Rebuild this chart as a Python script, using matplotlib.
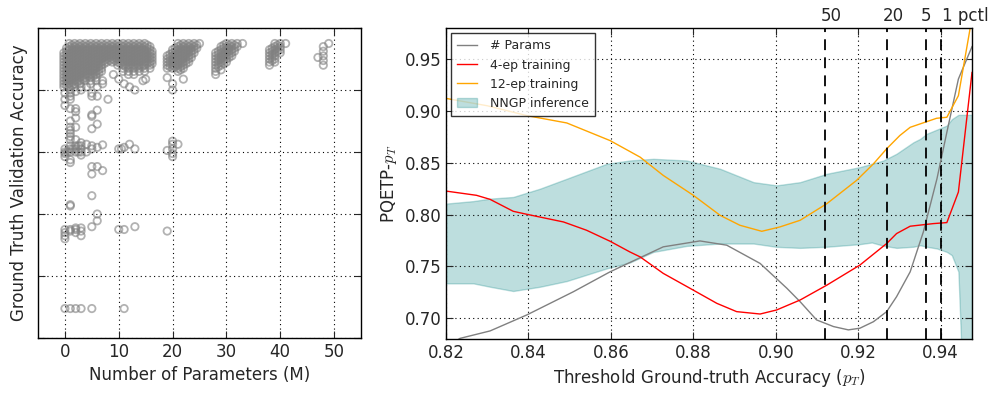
import matplotlib
matplotlib.use("Agg")
import matplotlib.pyplot as plt
import matplotlib.ticker as mticker

plt.rcParams["font.family"] = ["DejaVu Sans"]
plt.rcParams["text.color"] = "#262626"
plt.rcParams["axes.labelcolor"] = "#262626"
plt.rcParams["xtick.color"] = "#262626"
plt.rcParams["ytick.color"] = "#262626"
plt.rcParams["mathtext.fontset"] = "cm"

# ---- left panel: params (M) vs ground truth accuracy ----
# accuracies of the dense cluster columns
acc_95_81 = [0.95, 0.94, 0.93, 0.92, 0.91, 0.90, 0.89, 0.88, 0.87, 0.86, 0.85, 0.84, 0.83, 0.82, 0.81]
acc_95_82 = [0.95, 0.94, 0.93, 0.92, 0.91, 0.90, 0.89, 0.88, 0.87, 0.86, 0.85, 0.84, 0.83, 0.82]
acc_95_83 = [0.95, 0.94, 0.93, 0.92, 0.91, 0.90, 0.89, 0.88, 0.87, 0.86, 0.85, 0.84, 0.83]
acc_95_85 = [0.95, 0.94, 0.93, 0.92, 0.91, 0.90, 0.89, 0.88, 0.87, 0.86, 0.85]
acc_95_86 = [0.95, 0.94, 0.93, 0.92, 0.91, 0.90, 0.89, 0.88, 0.87, 0.86]
acc_95_88 = [0.95, 0.94, 0.93, 0.92, 0.91, 0.90, 0.89, 0.88]
acc_95_89 = [0.95, 0.94, 0.93, 0.92, 0.91, 0.90, 0.89]
acc_945_815 = [0.945, 0.935, 0.925, 0.915, 0.905, 0.895, 0.885, 0.875, 0.865, 0.855, 0.845, 0.835, 0.825, 0.815]
acc_945_825 = [0.945, 0.935, 0.925, 0.915, 0.905, 0.895, 0.885, 0.875, 0.865, 0.855, 0.845, 0.835, 0.825]
acc_945_835 = [0.945, 0.935, 0.925, 0.915, 0.905, 0.895, 0.885, 0.875, 0.865, 0.855, 0.845, 0.835]
acc_945_845 = [0.945, 0.935, 0.925, 0.915, 0.905, 0.895, 0.885, 0.875, 0.865, 0.855, 0.845]
acc_945_855 = [0.945, 0.935, 0.925, 0.915, 0.905, 0.895, 0.885, 0.875, 0.865, 0.855]
acc_945_875 = [0.945, 0.935, 0.925, 0.915, 0.905, 0.895, 0.885, 0.875]
acc_945_885 = [0.945, 0.935, 0.925, 0.915, 0.905, 0.895, 0.885]
acc_945_895 = [0.945, 0.935, 0.925, 0.915, 0.905, 0.895]

dense_cols = [
    (-0.2, [0.92, 0.91, 0.90, 0.89, 0.88, 0.87, 0.86, 0.85, 0.84, 0.83, 0.82, 0.81]),
    (0.3, [0.935, 0.925, 0.915, 0.905, 0.895, 0.885, 0.875, 0.865, 0.855, 0.845, 0.835, 0.825, 0.815]),
    (0.8, acc_95_81), (1.3, acc_945_815), (1.8, acc_95_81),
    (2.3, acc_945_825), (2.8, acc_95_82),
    (3.3, acc_945_835), (3.8, acc_95_83),
    (4.3, acc_945_845), (4.8, acc_95_82), (5.3, acc_945_845), (5.8, acc_95_83),
    (6.3, acc_945_855), (6.8, acc_95_86), (7.3, acc_945_885), (7.8, acc_95_89),
    (8.3, acc_945_895), (8.8, acc_95_89), (9.3, acc_945_895),
    (9.8, acc_95_88), (10.3, acc_945_885), (10.8, acc_95_86), (11.3, acc_945_875),
    (11.8, acc_95_85), (12.3, acc_945_875), (12.8, acc_95_85), (13.3, acc_945_875),
    (13.8, acc_95_86), (14.3, acc_945_875), (14.8, acc_95_86), (15.3, acc_945_885),
    (15.8, [0.94, 0.93, 0.92, 0.91, 0.90, 0.89, 0.88, 0.87]),
    (16.2, [0.925, 0.915, 0.905, 0.895, 0.885]),
    (19.0, [0.91, 0.90, 0.89, 0.88, 0.87]),
    (19.5, [0.915, 0.905, 0.895, 0.885, 0.875]),
    (20.0, [0.93, 0.92, 0.91, 0.90, 0.89, 0.88, 0.87]),
    (20.5, [0.935, 0.925, 0.915, 0.905, 0.895, 0.885, 0.875]),
    (21.0, [0.95, 0.94, 0.93, 0.92, 0.91, 0.90, 0.89, 0.88, 0.87, 0.86]),
    (21.5, [0.945, 0.935, 0.925, 0.915, 0.905, 0.895, 0.885, 0.875, 0.865]),
    (22.0, [0.95, 0.94, 0.93, 0.92, 0.91, 0.90, 0.89, 0.88, 0.87]),
    (22.5, [0.945, 0.935, 0.925, 0.915, 0.905, 0.895, 0.885]),
    (23.0, [0.95, 0.94, 0.93, 0.92, 0.91, 0.90, 0.89]),
    (23.5, [0.945, 0.935, 0.925, 0.915, 0.905]),
    (24.0, [0.95, 0.94, 0.93, 0.92]),
    (24.5, [0.945, 0.935]),
    (25.0, [0.95]),
    (28.0, [0.92, 0.91, 0.90, 0.89, 0.88, 0.87, 0.86]),
    (28.5, [0.925, 0.915, 0.905, 0.895, 0.885, 0.875]),
    (29.0, [0.94, 0.93, 0.92, 0.91, 0.90, 0.89, 0.88]),
    (29.5, [0.945, 0.935, 0.925, 0.915, 0.905, 0.895, 0.885]),
    (30.0, [0.95, 0.94, 0.93, 0.92, 0.91, 0.90, 0.89]),
    (30.5, [0.945, 0.935, 0.925, 0.915, 0.905]),
    (31.0, [0.95, 0.94, 0.93, 0.92, 0.91]),
    (31.5, [0.945, 0.935, 0.925]),
    (32.0, [0.95, 0.94]),
    (33.0, [0.95]),
    (38.0, [0.93, 0.92, 0.91, 0.90, 0.89, 0.88]),
    (38.5, [0.935, 0.925, 0.915, 0.905, 0.895]),
    (39.0, [0.95, 0.94, 0.93, 0.92, 0.91, 0.90, 0.89]),
    (39.5, [0.945, 0.935, 0.925]),
    (40.0, [0.95, 0.94, 0.93, 0.92]),
    (41.0, [0.95]),
    (47.0, [0.905]),
    (48.0, [0.94, 0.925, 0.91, 0.895, 0.88]),
    (49.0, [0.95]),
]

# isolated runs below the main clusters
sparse_x = [0, 0, 0, 1, 1, 1, 1, 1, 1, 1, 1, 1, 2, 2, 2, 2, 2, 3, 3, 4, 5, 5, 5, 5, 5,
            6, 6, 6, 6, 7, 7, 8, 9, 10, 11, 12, 13, 14.5, 15, 19, 20, 20, 22, 28, 29,
            0, 0, 0, 0.5, 1, 1, 1, 1.5, 2, 2, 2, 2.5, 2.5, 3, 3, 3, 3, 4, 4, 5, 5, 6,
            7, 10, 10.5, 11, 12, 13, 19, 20, 20, 20, 20, 20, 21, 1, 1, 1, 2, 3,
            0, 1, 5, 5, 6, 7, 5, 1, 1, 6, 6,
            0, 0, 0, 0, 1, 1, 2, 2, 2, 3, 3, 3, 5, 10, 11, 13, 19,
            0, 1, 2, 3, 5, 11]
sparse_y = [0.79, 0.77, 0.75, 0.80, 0.79, 0.78, 0.77, 0.74, 0.70, 0.68, 0.65, 0.64, 0.795,
            0.74, 0.73, 0.71, 0.68, 0.80, 0.81, 0.81, 0.79, 0.78, 0.72, 0.715, 0.675,
            0.78, 0.735, 0.69, 0.81, 0.82, 0.83, 0.77, 0.85, 0.835, 0.82, 0.81, 0.80,
            0.83, 0.835, 0.84, 0.80, 0.82, 0.835, 0.85, 0.865,
            0.60, 0.595, 0.61, 0.60, 0.61, 0.60, 0.62, 0.61, 0.62, 0.61, 0.60, 0.62,
            0.60, 0.61, 0.62, 0.60, 0.59, 0.625, 0.60, 0.62, 0.61, 0.615, 0.623, 0.61,
            0.61, 0.615, 0.625, 0.61, 0.605, 0.635, 0.625, 0.61, 0.595, 0.585, 0.625,
            0.575, 0.66, 0.67, 0.64, 0.63,
            0.585, 0.566, 0.553, 0.529, 0.553, 0.54, 0.459, 0.426, 0.43, 0.40, 0.378,
            0.35, 0.34, 0.33, 0.32, 0.35, 0.345, 0.355, 0.35, 0.34, 0.355, 0.345, 0.33,
            0.359, 0.35, 0.35, 0.359, 0.345,
            0.095, 0.095, 0.095, 0.095, 0.095, 0.095]

# ---- right panel: PQETP curves ----
params_x = [0.820, 0.8234, 0.8307, 0.8396, 0.8509, 0.8598, 0.8646, 0.8727, 0.8816,
            0.8881, 0.8962, 0.9027, 0.9059, 0.9099, 0.9140, 0.9176, 0.9204, 0.9237,
            0.9269, 0.9293, 0.9326, 0.9358, 0.9391, 0.9415, 0.9443, 0.9476]
params_y = [0.672, 0.6806, 0.6878, 0.7032, 0.7256, 0.7448, 0.7538, 0.7689, 0.7746,
            0.7705, 0.7529, 0.7289, 0.716, 0.6984, 0.692, 0.6888, 0.6904, 0.6967,
            0.7064, 0.7208, 0.7448, 0.7833, 0.8346, 0.8794, 0.9308, 0.962]

ep4_x = [0.820, 0.8274, 0.8307, 0.8363, 0.8396, 0.8485, 0.8541, 0.8598, 0.8646,
         0.8671, 0.8727, 0.8792, 0.8857, 0.8905, 0.8962, 0.9002, 0.9059, 0.9124,
         0.9204, 0.9269, 0.9293, 0.9326, 0.9382, 0.9415, 0.9443, 0.9476]
ep4_y = [0.8227, 0.8186, 0.8147, 0.8032, 0.8003, 0.7929, 0.7849, 0.7743, 0.764,
         0.7592, 0.7433, 0.7289, 0.7144, 0.7064, 0.7041, 0.708, 0.7176, 0.732,
         0.7513, 0.7721, 0.7817, 0.7888, 0.7913, 0.7923, 0.8218, 0.9371]

ep12_x = [0.820, 0.830, 0.8396, 0.8493, 0.8598, 0.8646, 0.8671, 0.8727, 0.8800,
          0.8865, 0.8913, 0.8966, 0.9010, 0.9059, 0.9124, 0.9196, 0.9237, 0.9269,
          0.9301, 0.9326, 0.9362, 0.9390, 0.9415, 0.9443, 0.9476]
ep12_y = [0.9121, 0.905, 0.8955, 0.8884, 0.8714, 0.8609, 0.8554, 0.8378, 0.8186,
          0.7993, 0.7897, 0.7839, 0.7881, 0.7945, 0.8106, 0.833, 0.849, 0.8635,
          0.8763, 0.8842, 0.8891, 0.8929, 0.8939, 0.9147, 0.99]

nngp_x = [0.820, 0.8266, 0.8307, 0.8363, 0.8428, 0.8493, 0.8590, 0.8646, 0.8703,
          0.8784, 0.8865, 0.8946, 0.9002, 0.9059, 0.9124, 0.9204, 0.9233, 0.9261,
          0.9293, 0.9334, 0.9350, 0.9366, 0.9391, 0.9415, 0.9427, 0.9443, 0.9462,
          0.9476]
nngp_hi = [0.8106, 0.813, 0.8154, 0.817, 0.825, 0.8346, 0.849, 0.8522, 0.8538,
           0.8522, 0.8442, 0.8313, 0.8282, 0.8313, 0.8394, 0.8458, 0.849, 0.8522,
           0.8587, 0.8698, 0.873, 0.8779, 0.882, 0.8859, 0.892, 0.8962, 0.8962,
           0.8962]
nngp_lo = [0.7337, 0.7337, 0.7304, 0.7263, 0.7304, 0.7359, 0.7481, 0.7538, 0.764,
           0.7698, 0.7721, 0.7721, 0.7689, 0.7679, 0.769, 0.7715, 0.7731, 0.770,
           0.7679, 0.769, 0.7705, 0.769, 0.7673, 0.764, 0.7609, 0.745, 0.55, 0.55]

pctl_x = [0.9120, 0.9271, 0.9364, 0.9400]
pctl_labels = ["50", "20", "5", "1 pctl"]

fig = plt.figure(figsize=(9.98, 3.95), dpi=100)
ax1 = fig.add_axes([38 / 998, 57 / 395, 323 / 998, 310 / 395])
ax2 = fig.add_axes([446 / 998, 56 / 395, 526 / 998, 311 / 395])

for ax in (ax1, ax2):
    ax.tick_params(direction="in", top=True, right=True, length=5, labelsize=12)
    ax.grid(True, color="black", linestyle=(0, (1, 3)), linewidth=0.8)
    for s in ax.spines.values():
        s.set_linewidth(1.0)

xs, ys = [], []
for x, col in dense_cols:
    xs += [x] * len(col)
    ys += col
xs += sparse_x
ys += sparse_y
ax1.scatter(xs, ys, s=28, facecolors="none", edgecolors="gray", linewidths=1.3, alpha=0.6)
ax1.set_xlim(-5, 55)
ax1.set_ylim(0, 1)
ax1.set_xticks([0, 10, 20, 30, 40, 50])
ax1.set_yticks([0, 0.2, 0.4, 0.6, 0.8, 1.0])
ax1.set_yticklabels([])
ax1.set_xlabel("Number of Parameters (M)", fontsize=12)
ax1.set_ylabel("Ground Truth Validation Accuracy", fontsize=12)

ax2.plot(params_x, params_y, color="gray", lw=1.0, label="# Params")
ax2.plot(ep4_x, ep4_y, color="red", lw=1.0, label="4-ep training")
ax2.plot(ep12_x, ep12_y, color="orange", lw=1.0, label="12-ep training")
ax2.fill_between(nngp_x, nngp_lo, nngp_hi, color="teal", alpha=0.26, lw=1.0,
                 label="NNGP inference")
for px in pctl_x:
    ax2.axvline(px, color="black", ls=(0, (6, 4)), lw=1.3)
label_shift = [4.3, 4.3, 0.0, 0.7]
for px, lab, dx in zip(pctl_x, pctl_labels, label_shift):
    ha = "left" if lab == "1 pctl" else "center"
    ax2.annotate(lab, xy=(px, 0.98), xytext=(dx, 2), textcoords="offset points",
                 ha=ha, va="bottom", fontsize=12, annotation_clip=False)
ax2.set_xlim(0.82, 0.9476)
ax2.set_ylim(0.68, 0.98)
ax2.set_xticks([0.82, 0.84, 0.86, 0.88, 0.90, 0.92, 0.94])
ax2.set_yticks([0.70, 0.75, 0.80, 0.85, 0.90, 0.95])
ax2.xaxis.set_major_formatter(mticker.FormatStrFormatter("%.2f"))
ax2.yaxis.set_major_formatter(mticker.FormatStrFormatter("%.2f"))
ax2.set_xlabel("Threshold Ground-truth Accuracy ($p_T$)", fontsize=12)
ax2.set_ylabel("PQETP-$p_T$", fontsize=12)
leg = ax2.legend(loc="upper left", fontsize=9, frameon=True, fancybox=False,
                 handlelength=1.6, handletextpad=1.0, borderpad=0.5,
                 labelspacing=0.5, borderaxespad=0.4)
leg.get_frame().set_edgecolor("black")
leg.get_frame().set_linewidth(1.0)

fig.savefig("out.png", dpi=100)
